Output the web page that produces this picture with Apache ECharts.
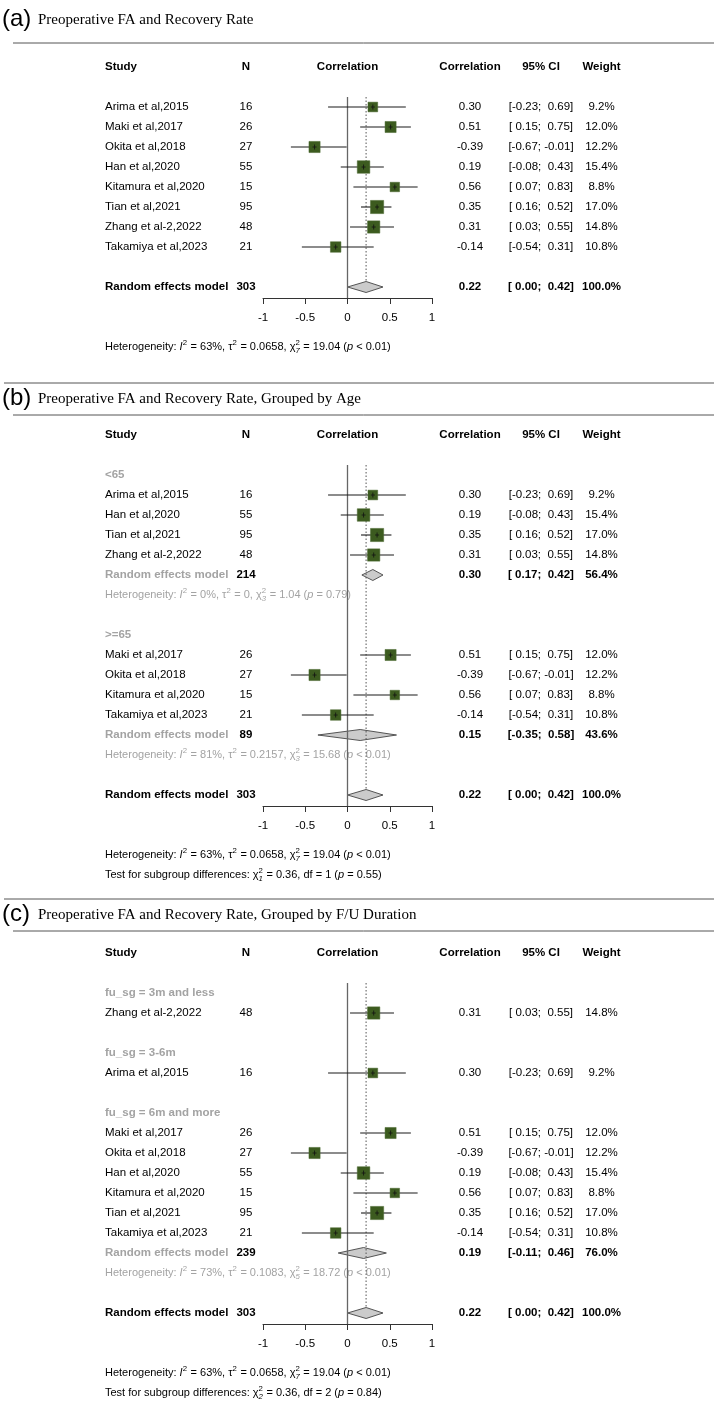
<!DOCTYPE html>
<html><head><meta charset="utf-8">
<script src="https://cdn.jsdelivr.net/npm/echarts@6/dist/echarts.min.js"></script>
<style>html,body{margin:0;padding:0;background:#fff}#c{width:716px;height:1404px}</style>
</head><body><div id="c"></div>
<script>
// ---------------- data ----------------
const studies = ['Arima et al,2015','Maki et al,2017','Okita et al,2018','Han et al,2020','Kitamura et al,2020','Tian et al,2021','Zhang et al-2,2022','Takamiya et al,2023'];
const sampleSizes = [16,26,27,55,15,95,48,21];
const correlations = [0.30,0.51,-0.39,0.19,0.56,0.35,0.31,-0.14];
const ciLower = [-0.23,0.15,-0.67,-0.08,0.07,0.16,0.03,-0.54];
const ciUpper = [0.69,0.75,-0.01,0.43,0.83,0.52,0.55,0.31];
const weights = [9.2,12.0,12.2,15.4,8.8,17.0,14.8,10.8];
const ageGroups = ['<65','>=65','>=65','<65','>=65','<65','<65','>=65'];
const followUpGroups = ['3-6m','6m and more','6m and more','6m and more','6m and more','6m and more','3m and less','6m and more'];
const ageGroupOrder = ['<65','>=65'];
const followUpOrder = ['3m and less','3-6m','6m and more'];
const xTickLabels = ['-1','-0.5','0','0.5','1'];

const pooledOverall = {n:303, est:0.22, lo:0.00, hi:0.42, w:100.0};
const pooledAge = [{n:214, est:0.30, lo:0.17, hi:0.42, w:56.4}, {n:89, est:0.15, lo:-0.35, hi:0.58, w:43.6}];
const pooledFollowUp = [null, null, {n:239, est:0.19, lo:-0.11, hi:0.46, w:76.0}];

const hetOverall = {I2:'63%', tau2:'0.0658', df:7, Q:'19.04', p:'< 0.01'};
const hetAge = [{I2:'0%', tau2:'0', df:3, Q:'1.04', p:'= 0.79'}, {I2:'81%', tau2:'0.2157', df:3, Q:'15.68', p:'< 0.01'}];
const hetFollowUp = [null, null, {I2:'73%', tau2:'0.1083', df:5, Q:'18.72', p:'< 0.01'}];
const testAge = {df:1, Q:'0.36', p:'= 0.55'};
const testFollowUp = {df:2, Q:'0.36', p:'= 0.84'};

// ---------------- style / layout ----------------
const SANS = "'Liberation Sans', Arial, Helvetica, sans-serif";
const SERIF = "'Liberation Serif', 'Times New Roman', serif";
const FS = 11.5;
const BLACK = '#000';
const GRAY = '#a3a3a3';
const ROW = 20;
const COL = {study:105, n:246, cor:470, ci:541, w:601.5};

const panelDefs = [
  {tag:'(a)', title:'Preoperative FA and Recovery Rate', headerY:67, lineAbove:null, lineBelow:43, titleY:20,
   groups:null},
  {tag:'(b)', title:'Preoperative FA and Recovery Rate, Grouped by Age', headerY:435, lineAbove:383, lineBelow:415, titleY:399,
   groups:{key:ageGroups, order:ageGroupOrder, labels:ageGroupOrder, pooled:pooledAge, het:hetAge, test:testAge}},
  {tag:'(c)', title:'Preoperative FA and Recovery Rate, Grouped by F/U Duration', headerY:953, lineAbove:899, lineBelow:931, titleY:915,
   groups:{key:followUpGroups, order:followUpOrder, labels:followUpOrder.map(g=>'fu_sg = '+g), pooled:pooledFollowUp, het:hetFollowUp, test:testFollowUp}}
];

function buildRows(def){
  const rows=[{type:'header', r:0}];
  let r=2;
  const g=def.groups;
  if(!g){
    studies.forEach((s,i)=>rows.push({type:'study', i, r:r++}));
    r++;
  } else {
    g.order.forEach((name,gi)=>{
      rows.push({type:'group', text:g.labels[gi], r:r++});
      studies.forEach((s,i)=>{ if(g.key[i]===name) rows.push({type:'study', i, r:r++}); });
      if(g.pooled[gi]){
        rows.push({type:'subpooled', p:g.pooled[gi], r:r++});
        rows.push({type:'subhet', h:g.het[gi], r:r++});
      }
      r++;
    });
  }
  const overallRow=r;
  rows.push({type:'pooled', p:pooledOverall, r});
  rows.push({type:'het', h:hetOverall, r:r+3});
  if(g && g.test) rows.push({type:'test', h:g.test, r:r+4});
  return {rows, overallRow, axisRow: overallRow+0.55};
}

const fmtCor = v => v.toFixed(2);
const pad = v => (v<0 ? v.toFixed(2) : '\u00a0'+v.toFixed(2));
const fmtCI = (lo,hi) => '['+pad(lo)+'; '+pad(hi)+']';
const fmtW = w => w.toFixed(1)+'%';

const mctx=document.createElement('canvas').getContext('2d');
function tw(text,size,italic,bold){
  mctx.font=(italic?'italic ':'normal ')+(bold?'bold ':'normal ')+size+'px '+SANS;
  return mctx.measureText(text).width;
}
function txt(x,y,text,o){
  o=o||{};
  return {type:'text', z2:o.z2||1, style:{x, y, text, fill:o.color||BLACK, fontSize:o.size||FS, fontFamily:SANS,
    fontWeight:o.bold?'bold':'normal', fontStyle:o.italic?'italic':'normal',
    align:o.align||'left', verticalAlign:'middle'}};
}
function hetSegs(h){
  return [{t:'Heterogeneity: '},{t:'I',it:true},{sup:'2'},{t:' = '+h.I2+', \u03c4'},{sup:'2'},
    {t:' = '+h.tau2+', \u03c7'},{sup:'2',sub:String(h.df)},{t:' = '+h.Q+' ('},{t:'p',it:true},{t:' '+h.p+')'}];
}
function testSegs(h){
  return [{t:'Test for subgroup differences: \u03c7'},{sup:'2',sub:String(h.df)},
    {t:' = '+h.Q+', df = '+h.df+' ('},{t:'p',it:true},{t:' '+h.p+')'}];
}
function segElems(x,y,segs,color){
  const els=[]; let cx=x; const size=11, small=7.8;
  segs.forEach(s=>{
    if(s.t!=null){
      els.push(txt(cx,y,s.t,{color,size,italic:s.it}));
      cx+=tw(s.t,size,s.it,false);
    } else {
      let w=0;
      if(s.sup){ els.push(txt(cx,y-4.5,s.sup,{color,size:small})); w=Math.max(w,tw(s.sup,small)); }
      if(s.sub){ els.push(txt(cx,y+4,s.sub,{color,size:small,italic:true})); w=Math.max(w,tw(s.sub,small,true)); }
      cx+=w+0.5;
    }
  });
  return els;
}

// ---------------- option ----------------
const grids=[], xAxes=[], yAxes=[], series=[], graphics=[];

panelDefs.forEach((def,pi)=>{
  const built=buildRows(def);
  const rows=built.rows;
  grids.push({left:263, width:169, top:def.headerY, height:built.axisRow*ROW, containLabel:false, outerBoundsMode:'none'});
  xAxes.push({type:'value', gridIndex:pi, min:-1, max:1, interval:0.5, position:'bottom',
    axisLine:{show:true, onZero:false, lineStyle:{color:'#333', width:1}},
    axisTick:{show:true, inside:false, length:6, lineStyle:{color:'#333'}},
    axisLabel:{show:true, margin:14, fontSize:FS, fontFamily:SANS, color:BLACK,
      formatter:v=>{const k=Math.round((v+1)/0.5); return xTickLabels[k]!==undefined?xTickLabels[k]:'';}},
    splitLine:{show:false}});
  yAxes.push({type:'value', gridIndex:pi, min:0, max:built.axisRow, inverse:true, show:false, splitLine:{show:false}});

  // text + diamonds
  series.push({type:'custom', xAxisIndex:pi, yAxisIndex:pi, z:3, clip:false, silent:true,
    data:rows.map(r=>[0,r.r]),
    renderItem:(params,api)=>{
      const row=rows[params.dataIndex];
      const c=api.coord([0,row.r]); const y=c[1];
      const ch=[];
      if(row.type==='header'){
        ch.push(txt(COL.study,y,'Study',{bold:true}));
        ch.push(txt(COL.n,y,'N',{bold:true,align:'center'}));
        ch.push(txt(c[0],y,'Correlation',{bold:true,align:'center'}));
        ch.push(txt(COL.cor,y,'Correlation',{bold:true,align:'center'}));
        ch.push(txt(COL.ci,y,'95% CI',{bold:true,align:'center'}));
        ch.push(txt(COL.w,y,'Weight',{bold:true,align:'center'}));
      } else if(row.type==='study'){
        const i=row.i;
        ch.push(txt(COL.study,y,studies[i]));
        ch.push(txt(COL.n,y,String(sampleSizes[i]),{align:'center'}));
        ch.push(txt(COL.cor,y,fmtCor(correlations[i]),{align:'center'}));
        ch.push(txt(COL.ci,y,fmtCI(ciLower[i],ciUpper[i]),{align:'center'}));
        ch.push(txt(COL.w,y,fmtW(weights[i]),{align:'center'}));
      } else if(row.type==='group'){
        ch.push(txt(COL.study,y,row.text,{bold:true,color:GRAY}));
      } else if(row.type==='pooled' || row.type==='subpooled'){
        const p=row.p;
        ch.push(txt(COL.study,y,'Random effects model',{bold:true,color:row.type==='pooled'?BLACK:GRAY}));
        ch.push(txt(COL.n,y,String(p.n),{bold:true,align:'center'}));
        ch.push(txt(COL.cor,y,fmtCor(p.est),{bold:true,align:'center'}));
        ch.push(txt(COL.ci,y,fmtCI(p.lo,p.hi),{bold:true,align:'center'}));
        ch.push(txt(COL.w,y,fmtW(p.w),{bold:true,align:'center'}));
        const xl=api.coord([p.lo,row.r])[0], xm=api.coord([p.est,row.r])[0], xh=api.coord([p.hi,row.r])[0];
        ch.push({type:'polygon', z2:0, shape:{points:[[xl,y],[xm,y-5.5],[xh,y],[xm,y+5.5]]},
          style:{fill:'#cbcbcb', stroke:'#444', lineWidth:0.9}});
      } else if(row.type==='het' || row.type==='subhet'){
        segElems(COL.study,y,hetSegs(row.h),row.type==='het'?BLACK:GRAY).forEach(e=>ch.push(e));
      } else if(row.type==='test'){
        segElems(COL.study,y,testSegs(row.h),BLACK).forEach(e=>ch.push(e));
      }
      return {type:'group', children:ch};
    }});

  // reference lines (null effect and pooled estimate)
  series.push({type:'custom', xAxisIndex:pi, yAxisIndex:pi, z:4, clip:false, silent:true,
    data:[[0,1.5,built.axisRow,0],[pooledOverall.est,1.5,built.overallRow-0.28,1]],
    renderItem:(params,api)=>{
      const a=api.coord([api.value(0),api.value(1)]), b=api.coord([api.value(0),api.value(2)]);
      const dotted=api.value(3)===1;
      return {type:'line', shape:{x1:a[0],y1:a[1],x2:b[0],y2:b[1]},
        style:dotted?{stroke:'#555',lineWidth:1,lineDash:[1.5,2]}:{stroke:'#666',lineWidth:1.3}};
    }});

  // study CIs and squares
  const studyRows=rows.filter(r=>r.type==='study');
  series.push({type:'custom', xAxisIndex:pi, yAxisIndex:pi, z:5, clip:false, silent:true,
    data:studyRows.map(r=>[correlations[r.i], r.r, ciLower[r.i], ciUpper[r.i], weights[r.i]]),
    renderItem:(params,api)=>{
      const est=api.value(0), rr=api.value(1), lo=api.value(2), hi=api.value(3), w=api.value(4);
      const p=api.coord([est,rr]), pl=api.coord([lo,rr]), ph=api.coord([hi,rr]);
      const s=3.2*Math.sqrt(w);
      return {type:'group', children:[
        {type:'line', shape:{x1:pl[0],y1:p[1],x2:ph[0],y2:p[1]}, style:{stroke:'#1a1a1a',lineWidth:1.1}},
        {type:'rect', shape:{x:p[0]-s/2,y:p[1]-s/2,width:s,height:s}, style:{fill:'#3c5b1f', stroke:'#4d6b33', lineWidth:0.5}},
        {type:'line', shape:{x1:p[0]-2,y1:p[1],x2:p[0]+2,y2:p[1]}, style:{stroke:'#111',lineWidth:0.8}},
        {type:'line', shape:{x1:p[0],y1:p[1]-2.5,x2:p[0],y2:p[1]+2.5}, style:{stroke:'#111',lineWidth:0.8}}
      ]};
    }});

  // panel title and rules
  graphics.push({type:'text', x:2, y:def.titleY-1, style:{text:def.tag, fontSize:24, fontFamily:SANS, fill:BLACK, verticalAlign:'middle', textVerticalAlign:'middle'}});
  graphics.push({type:'text', x:38, y:def.titleY, style:{text:def.title, fontSize:15, fontFamily:SERIF, fill:BLACK, verticalAlign:'middle', textVerticalAlign:'middle'}});
  if(def.lineAbove!=null) graphics.push({type:'line', shape:{x1:4,y1:def.lineAbove,x2:714,y2:def.lineAbove}, style:{stroke:'#555',lineWidth:1}});
  graphics.push({type:'line', shape:{x1:13,y1:def.lineBelow,x2:714,y2:def.lineBelow}, style:{stroke:'#555',lineWidth:1}});
});

const chart=echarts.init(document.getElementById('c'),null,{renderer:'canvas'});
chart.setOption({
  backgroundColor:'#fff',
  animation:false,
  grid:grids, xAxis:xAxes, yAxis:yAxes, series, graphic:graphics
});
</script></body></html>
